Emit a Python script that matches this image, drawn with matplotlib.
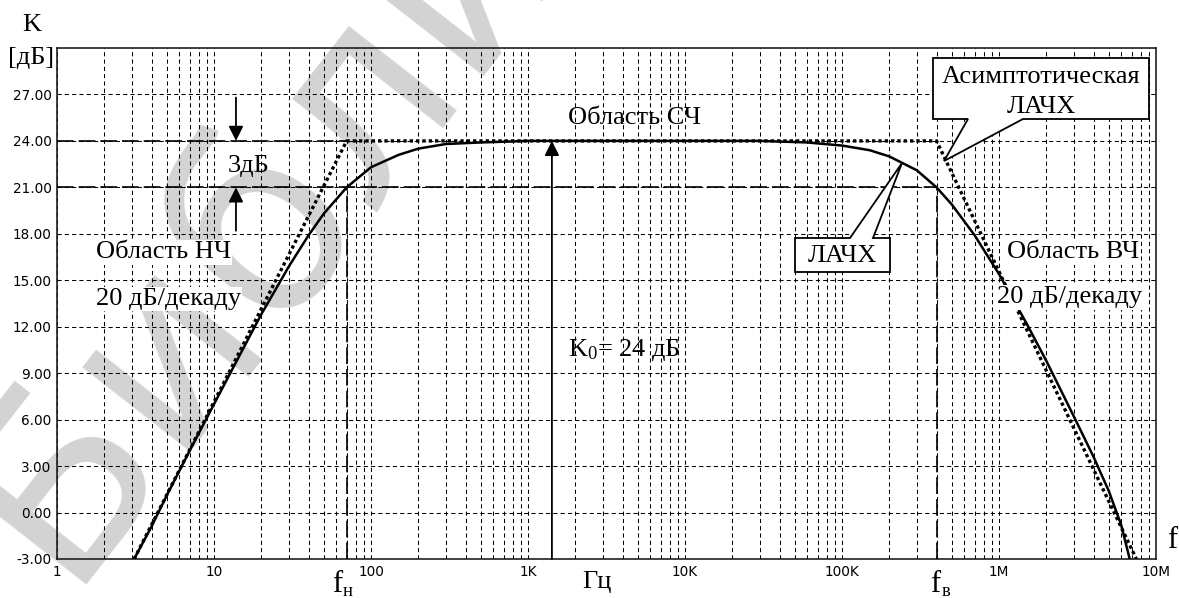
import numpy as np
import matplotlib.pyplot as plt
from matplotlib.patches import Polygon
from matplotlib.ticker import LogLocator, FixedLocator, FixedFormatter, NullFormatter

plt.rcParams['font.family'] = ['DejaVu Sans']
plt.rcParams['mathtext.fontset'] = 'custom'
plt.rcParams['mathtext.rm'] = 'Liberation Serif'
plt.rcParams['mathtext.it'] = 'Liberation Serif:italic'

# ЛАЧХ, values (Hz, dB)
freq = [3.1, 4, 5, 7, 10, 15, 20, 30, 40, 50, 70, 100, 150, 200, 300, 500,
        1e3, 3e3, 1e4, 3e4, 6e4, 1e5, 1.5e5, 2e5, 3e5, 4e5, 5e5, 7e5,
        1e6, 1.5e6, 2e6, 3e6, 4e6, 5e6, 6e6, 6.8e6]
gain = [-3.0, -0.9, 1.1, 4.0, 7.0, 10.4, 12.8, 15.9, 17.9, 19.3, 21.0, 22.3,
        23.1, 23.5, 23.8, 23.9, 24.0, 24.0, 24.0, 24.0, 23.9, 23.7, 23.4,
        23.0, 22.1, 21.0, 19.9, 17.9, 15.4, 12.2, 9.8, 6.2, 3.6, 1.4, -0.8, -3.0]

# асимптотическая ЛАЧХ
asym_freq = [3.1, 70, 4e5, 7.5e6]
asym_gain = [-3, 24, 24, -3]

f_low = 70
f_high = 4e5
k0 = 24
k_3db = 21
f_k0 = 1.42e3

x_ticks = [1, 10, 100, 1e3, 1e4, 1e5, 1e6, 1e7]
x_labels = ['1', '10', '100', '1K', '10K', '100K', '1M', '10M']
y_ticks = [-3, 0, 3, 6, 9, 12, 15, 18, 21, 24, 27]

W, H = 1179, 598
serif = ['Liberation Serif', 'DejaVu Serif']


def px(x, y):
    return x / W, 1 - y / H


fig = plt.figure(figsize=(W / 100, H / 100), dpi=100)

# watermark behind everything
fig.text(*px(62, 585), 'Библиотека', family='DejaVu Sans', fontsize=180,
         color='#d3d3d3', rotation=52, rotation_mode='anchor', ha='left',
         va='baseline', zorder=-5)

ax = fig.add_axes([57 / W, 1 - 559 / H, 1099 / W, 511 / H])
ax.set_facecolor('none')

ax.set_xscale('log')
ax.set_xlim(1, 1e7)
ax.set_ylim(-3, 30)
ax.xaxis.set_major_locator(FixedLocator(x_ticks))
ax.xaxis.set_major_formatter(FixedFormatter(x_labels))
ax.xaxis.set_minor_locator(LogLocator(base=10, subs=range(2, 10), numticks=40))
ax.xaxis.set_minor_formatter(NullFormatter())
ax.set_yticks(y_ticks)
ax.set_yticklabels(['%.2f' % v for v in y_ticks])
ax.tick_params(which='both', length=0, labelsize=9.8, colors='black')
ax.tick_params(axis='x', pad=4)
ax.tick_params(axis='y', pad=4)

grid_kw = dict(color='black', lw=0.75, linestyle=(0, (4, 3)))
ax.grid(which='both', axis='x', **grid_kw)
ax.grid(which='major', axis='y', **grid_kw)
for s in ax.spines.values():
    s.set_linewidth(1.2)
    s.set_color('#202020')

# long dashed helper lines
dash_kw = dict(color='black', lw=1.2, linestyle=(0, (10, 3)), zorder=3)
ax.plot([1, f_low], [k0, k0], **dash_kw)
ax.plot([1, f_high], [k_3db, k_3db], **dash_kw)
ax.plot([f_low, f_low], [-3, k_3db], **dash_kw)
ax.plot([f_high, f_high], [-3, k_3db], **dash_kw)

# curves
ax.plot(asym_freq, asym_gain, color='black', lw=2.4, linestyle=(0, (1, 0.9)),
        dash_capstyle='butt', zorder=4)
ax.plot(freq, gain, color='black', lw=1.8, zorder=5)

# arrows
arr = dict(arrowstyle='-|>', mutation_scale=22, lw=1.3, color='black',
           shrinkA=0, shrinkB=0)
ax.annotate('', xy=(13.8, k0), xytext=(13.8, 26.8), arrowprops=arr, zorder=6)
ax.annotate('', xy=(13.8, k_3db), xytext=(13.8, 18.2), arrowprops=arr, zorder=6)
ax.annotate('', xy=(f_k0, k0), xytext=(f_k0, -3), arrowprops=arr, zorder=6)

fs = 19
wbox = dict(facecolor='white', edgecolor='none', pad=1)
ax.text(16.5, 22.4, '3дБ', family=serif, fontsize=fs, ha='center', va='center', zorder=6)
ax.text(1.8e3, 25.5, 'Область СЧ', family=serif, fontsize=fs, ha='left', va='center', zorder=6)
ax.text(1.8e3, 10.5, r'$\mathrm{K}_0$= 24 дБ', family=serif, fontsize=fs, ha='left',
        va='center', zorder=6)
ax.text(1.77, 16.8, 'Область НЧ', family=serif, fontsize=fs, ha='left', va='center',
        bbox=wbox, zorder=6)
ax.text(1.77, 13.8, '20 дБ/декаду', family=serif, fontsize=fs, ha='left', va='center',
        bbox=wbox, zorder=6)
ax.text(1.13e6, 16.8, 'Область ВЧ', family=serif, fontsize=fs, ha='left', va='center',
        bbox=wbox, zorder=6)
ax.text(9.7e5, 13.9, '20 дБ/декаду', family=serif, fontsize=fs, ha='left', va='center',
        bbox=wbox, zorder=6)

# callouts (pixel outlines)
call1 = [(795, 238), (850, 238), (902, 163), (873, 238), (890, 238), (890, 272), (795, 272)]
call2 = [(933, 58), (1149, 58), (1149, 119), (1023, 119), (944, 161), (968, 119), (933, 119)]
for c in (call1, call2):
    fig.patches.append(Polygon([px(*p) for p in c], closed=True, facecolor='white',
                               edgecolor='black', lw=1.3, transform=fig.transFigure,
                               zorder=7))
fig.text(*px(842, 256), 'ЛАЧХ', family=serif, fontsize=fs, ha='center', va='center', zorder=8)
fig.text(*px(1041, 77), 'Асимптотическая', family=serif, fontsize=fs, ha='center',
         va='center', zorder=8)
fig.text(*px(1041, 107), 'ЛАЧХ', family=serif, fontsize=fs, ha='center', va='center', zorder=8)

# axis labels
fig.text(*px(32, 25), 'K', family=serif, fontsize=fs, ha='center', va='center')
fig.text(*px(31, 58), '[дБ]', family=serif, fontsize=fs, ha='center', va='center')
fig.text(*px(1172, 540), 'f', family=serif, fontsize=fs + 3, ha='center', va='center')
fig.text(*px(597, 582), 'Гц', family=serif, fontsize=fs, ha='center', va='center')
fig.text(*px(337, 584), 'f', family=serif, fontsize=fs + 3, ha='center', va='center')
fig.text(*px(348, 591), 'н', family=serif, fontsize=fs * 0.7, ha='center', va='center')
fig.text(*px(935, 584), 'f', family=serif, fontsize=fs + 3, ha='center', va='center')
fig.text(*px(946, 591), 'в', family=serif, fontsize=fs * 0.7, ha='center', va='center')

fig.savefig('out.png', dpi=100)
